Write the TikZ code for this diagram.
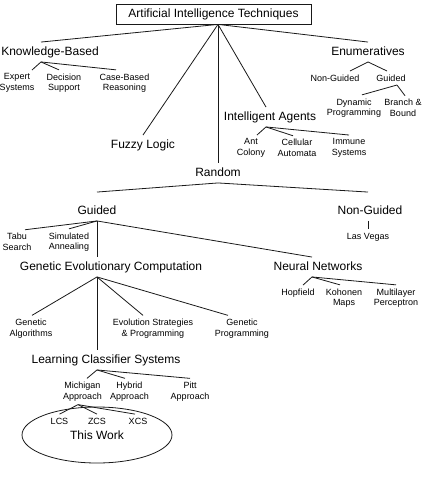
\documentclass[tikz,border=0pt]{standalone}
\usepackage{fontspec}
\setmainfont{Liberation Sans}
\usetikzlibrary{shapes.geometric}
\definecolor{linecolor}{RGB}{25,25,25}

\begin{document}
\begin{tikzpicture}[x=1pt, y=-1pt,
    title/.style={rectangle, draw=linecolor, line width=0.8pt,
                  minimum width=195pt, minimum height=20pt, font=\fontsize{12}{14}\selectfont},
    topic/.style={inner xsep=0pt, inner ysep=4pt, text height=9pt, text depth=2.5pt,
                  font=\fontsize{12}{14}\selectfont},
    leaf/.style={inner xsep=0pt, inner ysep=3.5pt, align=center,
                 font=\fontsize{9}{10.5}\selectfont},
    work/.style={ellipse, draw=linecolor, line width=0.8pt, inner sep=0pt,
                 minimum width=150pt, minimum height=56pt, font=\fontsize{12}{14}\selectfont},
    branch/.style={-, line width=0.8pt, linecolor}
]
\useasboundingbox (0,0) rectangle (433,479);

% Root
\node[title] (ait) at (213.5,14) {Artificial Intelligence Techniques};

% Main families
\node[topic] (kb) at (50,52) {Knowledge-Based};
\node[topic] (enum) at (368,52) {Enumeratives};
\node[topic] (fuzzy) at (143,145) {Fuzzy Logic};
\node[topic] (agents) at (270,117) {Intelligent Agents};
\node[topic] (rnd) at (218,173) {Random};

% Knowledge-Based
\node[leaf] (es) at (17,83) {Expert\\Systems};
\node[leaf] (ds) at (64,83) {Decision\\Support};
\node[leaf] (cbr) at (124.5,83) {Case-Based\\Reasoning};

% Enumeratives
\node[leaf] (eng) at (335,78) {Non-Guided};
\node[leaf] (eg) at (391,78) {Guided};
\node[leaf] (dp) at (354,108) {Dynamic\\Programming};
\node[leaf] (bb) at (403,108) {Branch \&\\Bound};

% Intelligent Agents
\node[leaf] (ant) at (251,148) {Ant\\Colony};
\node[leaf] (ca) at (297,148) {Cellular\\Automata};
\node[leaf] (ims) at (349,148) {Immune\\Systems};

% Random
\node[topic] (guided) at (97,211) {Guided};
\node[topic] (nonguided) at (370,211) {Non-Guided};
\node[leaf] (tabu) at (17,242) {Tabu\\Search};
\node[leaf] (sa) at (69,242) {Simulated\\Annealing};
\node[leaf] (lv) at (368,237) {Las Vegas};
\node[topic] (gec) at (111,267) {Genetic Evolutionary Computation};
\node[topic] (nn) at (318,267) {Neural Networks};

% Neural Networks
\node[leaf] (hop) at (298,293) {Hopfield};
\node[leaf] (km) at (344,298) {Kohonen\\Maps};
\node[leaf] (mlp) at (396,298) {Multilayer\\Perceptron};

% Genetic Evolutionary Computation
\node[leaf] (ga) at (31,328.5) {Genetic\\Algorithms};
\node[leaf] (esp) at (153,328.5) {Evolution Strategies\\\& Programming};
\node[leaf] (gp) at (242,328.5) {Genetic\\Programming};
\node[topic] (lcsys) at (106,360) {Learning Classifier Systems};

% Learning Classifier Systems
\node[leaf] (mich) at (82.5,391.5) {Michigan\\Approach};
\node[leaf] (hyb) at (129.5,391.5) {Hybrid\\Approach};
\node[leaf] (pitt) at (190,391.5) {Pitt\\Approach};
\node[work] (work) at (97,435) {This Work};
\node[leaf] (lcs) at (59.5,421) {LCS};
\node[leaf] (zcs) at (97,421) {ZCS};
\node[leaf] (xcs) at (138,421) {XCS};

% Connections
\foreach \c/\dx in {kb/-9, enum/0, fuzzy/0, agents/-4}
    \draw[branch] (ait.south -| rnd.north) -- ([xshift=\dx pt]\c.north);
\draw[branch] (ait.south -| rnd.north) -- (rnd.north);
\foreach \c/\dx in {es/15, ds/-5, cbr/-8.5}
    \draw[branch] ([xshift=-9pt]kb.south) -- ([xshift=\dx pt]\c.north);
\foreach \c/\dx in {eng/15, eg/-4}
    \draw[branch] (enum.south) -- ([xshift=\dx pt]\c.north);
\foreach \c/\dx in {dp/8, bb/2}
    \draw[branch] ([xshift=6pt]eg.south) -- ([xshift=\dx pt]\c.north);
\foreach \c/\dx in {ant/6, ca/-4, ims/0}
    \draw[branch] ([xshift=-4pt]agents.south) -- ([xshift=\dx pt]\c.north);
\draw[branch] (rnd.south) -- ([yshift=9pt]guided.north);
\draw[branch] (rnd.south) -- ([xshift=-2pt, yshift=9pt]nonguided.north);
\foreach \c/\dx in {tabu/8, sa/0, nn/-6}
    \draw[branch] (guided.south) -- ([xshift=\dx pt]\c.north);
\draw[branch] (guided.south) -- (gec.north -| guided.south);
\draw[branch] ([xshift=-2pt]nonguided.south) -- (lv.north);
\foreach \c/\dx in {hop/5, km/-4, mlp/0}
    \draw[branch] ([xshift=-6pt]nn.south) -- ([xshift=\dx pt]\c.north);
\foreach \c/\dx in {ga/1, esp/-10, gp/-14}
    \draw[branch] (gec.south -| guided.south) -- ([xshift=\dx pt]\c.north);
\draw[branch] (gec.south -| guided.south) -- (lcsys.north -| guided.south);
\foreach \c/\dx in {mich/4.5, hyb/-4.5, pitt/0}
    \draw[branch] (lcsys.south -| guided.south) -- ([xshift=\dx pt]\c.north);
\foreach \c/\dx in {lcs/0, zcs/0, xcs/-3}
    \draw[branch] ([xshift=-4.5pt]mich.south) -- ([xshift=\dx pt]\c.north);

\end{tikzpicture}
\end{document}
